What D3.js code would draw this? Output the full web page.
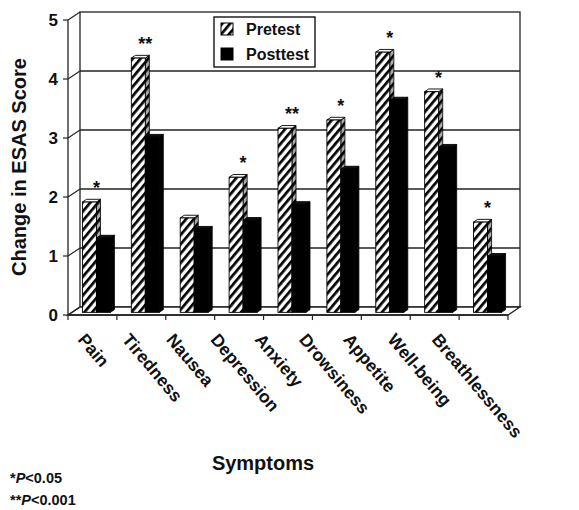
<!DOCTYPE html>
<html>
<head>
<meta charset="utf-8">
<script src="https://cdn.jsdelivr.net/npm/d3@7"></script>
<style>
  body { margin: 0; background: #fff; }
  svg text { font-family: "Liberation Sans", Arial, sans-serif; font-weight: bold; fill: #111; }
</style>
</head>
<body>
<div id="chart"></div>
<script>
// ESAS change, pretest vs posttest
const symptoms = ['Pain', 'Tiredness', 'Nausea', 'Depression', 'Anxiety', 'Drowsiness', 'Appetite', 'Well-being', 'Breathlessness'];
const pretest = [1.87, 4.31, 1.60, 2.29, 3.12, 3.26, 4.41, 3.74, 1.53];
const posttest = [1.26, 2.97, 1.41, 1.56, 1.83, 2.43, 3.60, 2.80, 0.95];
const significance = ['*', '**', '', '*', '**', '*', '*', '*', '*'];
const yTicks = [0, 1, 2, 3, 4, 5];
const seriesNames = ['Pretest', 'Posttest'];

const width = 579, height = 510;

const svg = d3.select('#chart')
    .append('svg')
    .attr('width', width)
    .attr('height', height);

// 3d depth of the plot box, and where the bars sit in it
const depth = {dx: 12, dy: -8};
const barFront = 0.33, barBack = 0.67;
const fdx = depth.dx * barFront, fdy = depth.dy * barFront;
const bdx = depth.dx * (barBack - barFront), bdy = depth.dy * (barBack - barFront);

const x = d3.scaleBand().domain(symptoms).range([68, 508]);
const sub = d3.scaleBand().domain(['pre', 'post']).range([0, x.bandwidth()]).paddingOuter(0.75);
const y = d3.scaleLinear().domain([0, 5]).range([315, 20]);
const labelX = d3.scalePoint().domain(symptoms).range([77, 431]);

const defs = svg.append('defs');
function hatch(id, bg) {
    const p = defs.append('pattern')
        .attr('id', id)
        .attr('patternUnits', 'userSpaceOnUse')
        .attr('width', 6).attr('height', 6)
        .attr('patternTransform', 'rotate(40)');
    p.append('rect').attr('width', 6).attr('height', 6).attr('fill', bg);
    p.append('rect').attr('width', 2.7).attr('height', 6).attr('fill', '#000');
}
hatch('hatch', '#fff');
hatch('hatchSide', '#aaa');

const x0 = x.range()[0], x1 = x.range()[1];
const gridColor = '#222';

// walls and floor
const walls = svg.append('g');
walls.append('polygon')
    .attr('points', [[x0, y(5)], [x0 + depth.dx, y(5) + depth.dy], [x0 + depth.dx, y(0) + depth.dy], [x0, y(0)]].join(' '))
    .attr('fill', '#fff');
walls.append('rect')
    .attr('x', x0 + depth.dx).attr('y', y(5) + depth.dy)
    .attr('width', x1 - x0).attr('height', y(0) - y(5))
    .attr('fill', '#fff').attr('stroke', gridColor).attr('stroke-width', 1.3);
walls.append('polygon')
    .attr('points', [[x0, y(0)], [x1, y(0)], [x1 + depth.dx, y(0) + depth.dy], [x0 + depth.dx, y(0) + depth.dy]].join(' '))
    .attr('fill', '#fff').attr('stroke', gridColor).attr('stroke-width', 1.3);

walls.selectAll('.grid')
    .data(yTicks.filter(d => d > 0 && d < 5))
    .enter()
    .append('line')
    .attr('x1', x0 + depth.dx).attr('x2', x1 + depth.dx)
    .attr('y1', d => y(d) + depth.dy).attr('y2', d => y(d) + depth.dy)
    .attr('stroke', gridColor).attr('stroke-width', 1.3);

walls.selectAll('.diag')
    .data(yTicks)
    .enter()
    .append('line')
    .attr('x1', x0).attr('x2', x0 + depth.dx)
    .attr('y1', d => y(d)).attr('y2', d => y(d) + depth.dy)
    .attr('stroke', gridColor).attr('stroke-width', 1.2);

// bars
function drawBar(g, bx, val, front, side, top) {
    const w = sub.bandwidth();
    const xa = bx + fdx, xb = bx + fdx + w;
    const yt = y(val) + fdy, yb = y(0) + fdy;
    g.append('polygon')
        .attr('points', [[xb, yt], [xb + bdx, yt + bdy], [xb + bdx, yb + bdy], [xb, yb]].join(' '))
        .attr('fill', side).attr('stroke', '#000').attr('stroke-width', 0.8);
    g.append('polygon')
        .attr('points', [[xa, yt], [xb, yt], [xb + bdx, yt + bdy], [xa + bdx, yt + bdy]].join(' '))
        .attr('fill', top).attr('stroke', '#000').attr('stroke-width', 0.9);
    g.append('rect')
        .attr('x', xa).attr('y', yt)
        .attr('width', w).attr('height', yb - yt)
        .attr('fill', front).attr('stroke', '#000').attr('stroke-width', 0.9);
}

const bars = svg.append('g');
symptoms.forEach((s, i) => {
    const g = bars.append('g');
    drawBar(g, x(s) + sub('pre'), pretest[i], 'url(#hatch)', 'url(#hatchSide)', '#fff');
    drawBar(g, x(s) + sub('post'), posttest[i], '#000', '#000', '#111');
});

// significance marks
svg.append('g')
    .selectAll('text')
    .data(symptoms)
    .enter()
    .append('text')
    .attr('x', d => x(d) + x.bandwidth() / 2 + fdx)
    .attr('y', (d, i) => y(pretest[i]) + fdy - 8)
    .attr('text-anchor', 'middle')
    .attr('font-size', 18)
    .text((d, i) => significance[i]);

// front axes
const axes = svg.append('g');
axes.append('line')
    .attr('x1', x0).attr('x2', x0).attr('y1', y(5)).attr('y2', y(0))
    .attr('stroke', gridColor).attr('stroke-width', 1.3);
axes.append('line')
    .attr('x1', x0).attr('x2', x1).attr('y1', y(0)).attr('y2', y(0))
    .attr('stroke', gridColor).attr('stroke-width', 1.3);
axes.selectAll('.ytick')
    .data(yTicks)
    .enter()
    .append('line')
    .attr('x1', x0 - 5).attr('x2', x0)
    .attr('y1', d => y(d)).attr('y2', d => y(d))
    .attr('stroke', gridColor).attr('stroke-width', 1.2);
axes.selectAll('.ylab')
    .data(yTicks)
    .enter()
    .append('text')
    .attr('x', x0 - 10)
    .attr('y', d => y(d))
    .attr('dy', '0.36em')
    .attr('text-anchor', 'end')
    .attr('font-size', 17)
    .text(d => d);

const bounds = symptoms.map(s => x(s)).concat([x1]);
axes.selectAll('.xtick')
    .data(bounds)
    .enter()
    .append('line')
    .attr('x1', d => d).attr('x2', d => d)
    .attr('y1', y(0)).attr('y2', y(0) + 5)
    .attr('stroke', gridColor).attr('stroke-width', 1.2);

axes.selectAll('.xlab')
    .data(symptoms)
    .enter()
    .append('text')
    .attr('transform', d => `translate(${labelX(d)},340) rotate(50)`)
    .attr('font-size', 17.5)
    .text(d => d);

// titles
svg.append('text')
    .attr('transform', 'translate(26,167) rotate(-90)')
    .attr('text-anchor', 'middle')
    .attr('font-size', 20)
    .text('Change in ESAS Score');

svg.append('text')
    .attr('x', 263).attr('y', 470)
    .attr('text-anchor', 'middle')
    .attr('font-size', 20)
    .text('Symptoms');

const notes = svg.append('g');
[['*', '<0.05', 483], ['**', '<0.001', 505]].forEach(n => {
    const t = notes.append('text').attr('x', 10).attr('y', n[2]).attr('font-size', 14.5);
    t.append('tspan').text(n[0]);
    t.append('tspan').attr('font-style', 'italic').text('P');
    t.append('tspan').text(n[1]);
});

// legend
const legend = svg.append('g');
legend.append('rect')
    .attr('x', 214).attr('y', 17).attr('width', 101).attr('height', 50)
    .attr('fill', '#fff').attr('stroke', '#000').attr('stroke-width', 1.3);
const items = legend.selectAll('.item')
    .data(seriesNames)
    .enter()
    .append('g')
    .attr('transform', (d, i) => `translate(221,${23 + i * 25})`);
items.append('rect')
    .attr('width', 12).attr('height', 12)
    .attr('fill', (d, i) => i === 0 ? 'url(#hatch)' : '#000')
    .attr('stroke', '#000').attr('stroke-width', 1);
items.append('text')
    .attr('x', 25).attr('y', 12)
    .attr('font-size', 16)
    .text(d => d);
</script>
</body>
</html>
